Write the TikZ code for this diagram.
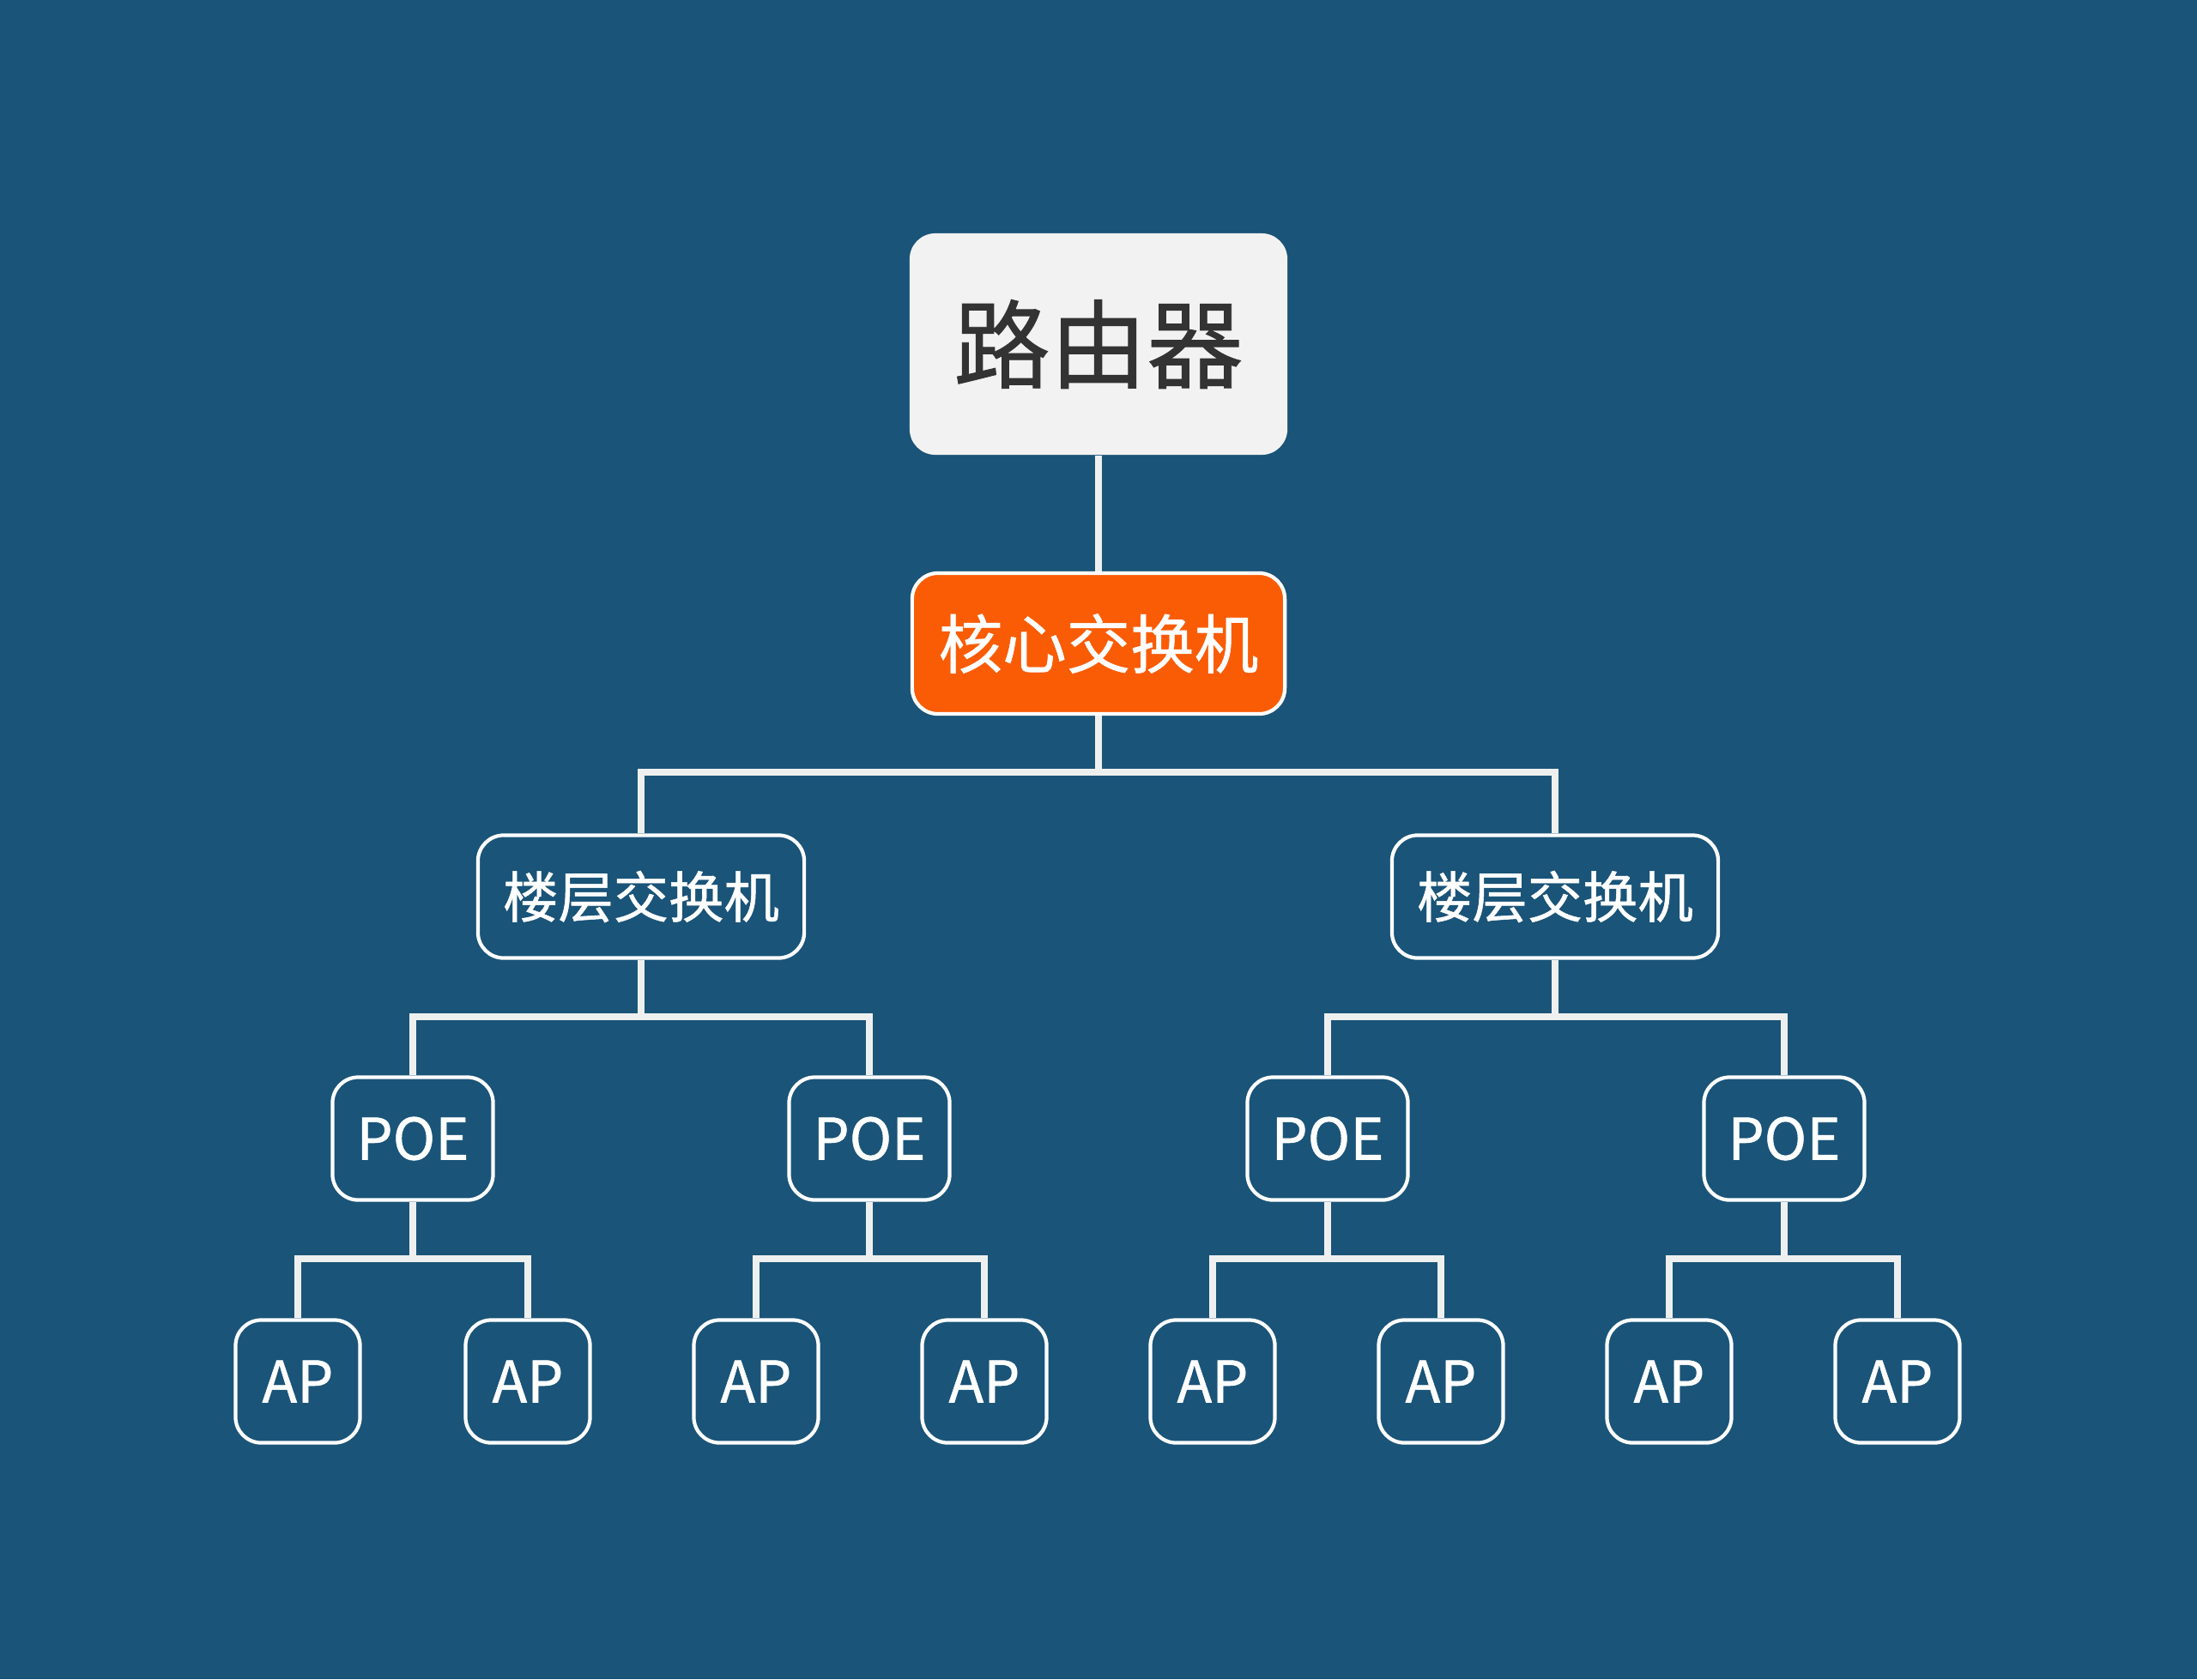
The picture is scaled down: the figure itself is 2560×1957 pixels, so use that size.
\documentclass[tikz,border=0pt]{standalone}
\usepackage{fontspec}
\setmainfont{Noto Sans CJK SC}[FakeBold=0.8]
\definecolor{bgblue}{HTML}{1A5478}
\definecolor{rootgray}{HTML}{F2F2F2}
\definecolor{textgray}{HTML}{333333}
\definecolor{coreorange}{HTML}{F95C05}
\definecolor{linegray}{HTML}{EEF0F0}
\usetikzlibrary{positioning}

\begin{document}
\begin{tikzpicture}[x=0.01cm,y=-0.01cm,
    box/.style={draw=white,line width=1.2pt,rounded corners=0.3cm,inner sep=0pt,
      text=white,minimum height=1.43cm},
    leaf/.style={box,font=\fontsize{19}{19}\selectfont},
    link/.style={linegray,line width=2.2pt}]
  \useasboundingbox (0,0) rectangle (2560,1957);
  \fill[bgblue] (0,0) rectangle (2560,1957);
  % top levels
  \node[fill=rootgray,rounded corners=0.3cm,minimum width=4.4cm,minimum height=2.58cm,
    text=textgray,font=\fontsize{32}{32}\selectfont] (router) at (1280,401) {路由器};
  \node[box,fill=coreorange,minimum width=4.34cm,minimum height=1.64cm,
    font=\fontsize{21.2}{21.2}\selectfont] (core) at (1280,750) {核心交换机};
  \node[box,minimum width=3.8cm,font=\fontsize{18.3}{18.3}\selectfont] (fl1) at (747,1045) {楼层交换机};
  \node[box,minimum width=3.8cm,font=\fontsize{18.3}{18.3}\selectfont] (fl2) at (1812,1045) {楼层交换机};
  % poe and ap rows
  \foreach \x [count=\i] in {481,1013,1547,2079}
    \node[leaf,minimum width=1.87cm] (poe\i) at (\x,1327) {POE};
  \foreach \x [count=\i] in {347,615,881,1147,1413,1679,1945,2211}
    \node[leaf,minimum width=1.45cm] (ap\i) at (\x,1610) {AP};
  % connectors
  \draw[link] (router.south) -- (core.north);
  \foreach \a/\b in {core/fl1,core/fl2,fl1/poe1,fl1/poe2,fl2/poe3,fl2/poe4,
      poe1/ap1,poe1/ap2,poe2/ap3,poe2/ap4,poe3/ap5,poe3/ap6,poe4/ap7,poe4/ap8}
    \draw[link] (\a.south) -- ++(0,66) -| (\b.north);
\end{tikzpicture}
\end{document}
